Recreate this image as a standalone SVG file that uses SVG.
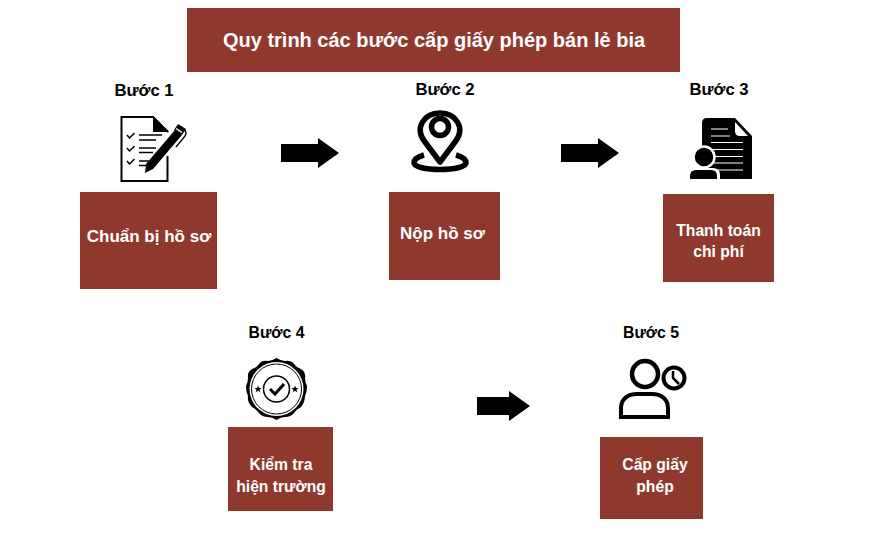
<svg xmlns="http://www.w3.org/2000/svg" width="884" height="540" viewBox="0 0 884 540">
<defs><style>
text{font-family:"Liberation Sans",Arial,sans-serif;font-weight:700;text-anchor:middle;fill:#000}
.box{fill:#8f392e}
.w{fill:#fff;font-size:15.7px}
.l{fill:#fff;font-size:17px}
.s{font-size:16.7px}
.t{font-size:15.8px}
.ln{fill:none;stroke:#000}
</style></defs>
<rect width="884" height="540" fill="#fff"/>
<g id="title"><rect class="box" x="187" y="8" width="493" height="64"/><text x="434" y="47" style="fill:#fff;font-size:20px">Quy trình các bước cấp giấy phép bán lẻ bia</text></g>
<g id="connectors">
<path d="M281 144H318V138L339 153L318 168V162H281Z"/>
<path d="M561 144H598V138L619 153L598 168V162H561Z"/>
<path d="M477 397H509V391L530 406L509 421V415H477Z"/>
</g>
<g id="step1"><text class="s" x="144" y="95.500">Bước 1</text>
<path class="ln" stroke-width="2" d="M168 132L153 117H121.500V181H167.500V156"/>
<path d="M153 116L169 132H153Z"/>
<g class="ln" stroke-width="1.500"><path d="M127 135l2.500 3 5-5M127 148l2.500 3 5-5M127 161l2.500 3 5-5"/><path d="M139 135H162M139 140H156M139 148H156M139 152.500H153M139 161H149M139 165.500H146"/></g>
<path d="M175 130L182 135L153 169L145 173L146 164Z"/><path d="M178 124L186 129L182 135L174 130Z"/><path d="M176 128.500L182 132.500" stroke="#fff" stroke-width="1.500"/><path class="ln" stroke-width="1.300" d="M185 130Q187 133 185 136L176 147"/>
</g>
<g id="step2"><text class="s" x="445" y="94.500">Bước 2</text>
<path class="ln" stroke-width="5.500" stroke-linejoin="round" d="M440 162L425 142C414 128 424 113 440 113C456 113 466 128 455 142Z"/>
<circle class="ln" stroke-width="5.500" cx="440" cy="127" r="8.500"/>
<path class="ln" stroke-width="5.500" d="M424 155C417 157 414 160 414 163C414 167 426 169.500 440 169.500C454 169.500 466 167 466 163C466 160 463 157 456 155"/>
</g>
<g id="step3"><text class="s" x="719" y="94.500">Bước 3</text>
<path d="M707 118H735L752 136V179H707Q702 179 702 174V123Q702 118 707 118Z"/>
<path d="M735 122V131Q735 136 740 136H748Z" fill="#fff"/>
<path stroke="#fff" stroke-width="1.200" d="M711 129H728M711 136H730M711 142.500H743M711 149.500H743M711 156.500H743M711 163H743M716 170H743"/>
<circle cx="704" cy="157" r="10.500" stroke="#fff" stroke-width="2.500"/><path d="M688 181V175Q688 168 695 168H713Q720 168 720 175V181Z" fill="#fff"/><path d="M690 179V176Q690 170 696 170H711Q717 170 717 176V179Z"/>
</g>
<g id="step4"><text class="t" x="276.500" y="337.500">Bước 4</text>
<path d="M276.500 358Q281 361 285 361Q291 360 294 364Q297 368 301 369Q306 372 305 378Q305 382 307 386Q307 392 305 396Q305 402 301 407Q297 409 294 413Q291 417 285 417Q281 417 276.500 420Q272 417 268 417Q262 417 259 413Q256 409 252 407Q247 402 248 396Q246 392 246 386Q248 382 248 378Q247 372 252 369Q256 368 259 364Q262 360 268 361Q272 361 276.500 358Z"/>
<circle cx="276.500" cy="389" r="27" fill="#fff"/><circle class="ln" cx="276.500" cy="389" r="25"/>
<circle class="ln" stroke-width="1.500" cx="276.500" cy="389" r="13"/>
<path class="ln" stroke-width="3" d="M270 389L275 394L284 384"/>
<path d="M258 385.500l1 2.500h2.500l-2 1.700.8 2.600-2.300-1.500-2.300 1.500.8-2.600-2-1.700h2.500zM295 385.500l1 2.500h2.500l-2 1.700.8 2.600-2.300-1.500-2.300 1.500.8-2.600-2-1.700h2.500z"/>
</g>
<g id="step5"><text class="t" x="651" y="337.500">Bước 5</text>
<circle class="ln" stroke-width="4.500" cx="645" cy="374" r="13"/>
<path class="ln" stroke-width="4" d="M621 417V408C621 399 628 394 637 394H652C661 394 668 399 668 408V417Z"/>
<circle class="ln" stroke-width="4" cx="674" cy="378" r="10.500"/>
<path class="ln" stroke-width="2.500" d="M673 371V378L679 384"/>
</g>
<g id="box1"><rect class="box" x="80" y="192" width="137" height="97"/><text class="l" x="149" y="242">Chuẩn bị hồ sơ</text></g>
<g id="box2"><rect class="box" x="389" y="192" width="111" height="88"/><text class="l" x="442.500" y="239">Nộp hồ sơ</text></g>
<g id="box3"><rect class="box" x="663" y="194" width="111" height="88"/><text class="w" x="718.500" y="236">Thanh toán</text><text class="w" x="718.500" y="257">chi phí</text></g>
<g id="box4"><rect class="box" x="228" y="427" width="105" height="84"/><text class="w" x="281" y="470">Kiểm tra</text><text class="w" x="281" y="492">hiện trường</text></g>
<g id="box5"><rect class="box" x="600" y="437" width="103" height="82"/><text class="w" x="655" y="470">Cấp giấy</text><text class="w" x="655" y="492">phép</text></g>
</svg>
